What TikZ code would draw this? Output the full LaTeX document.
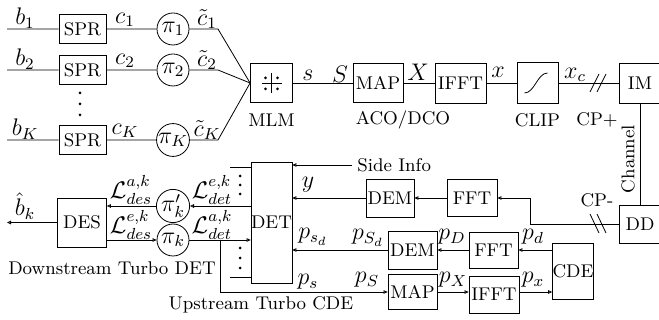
\documentclass[tikz,border=0pt]{standalone}
\usetikzlibrary{arrows.meta}
\begin{document}
\begin{tikzpicture}[x=0.5pt,y=-0.5pt,font=\fontsize{9.2}{11}\selectfont,
  blk/.style={draw,inner sep=0pt},
  circ/.style={draw,circle,inner sep=0pt,minimum size=16pt,font=\fontsize{11.5}{13}\selectfont},
  >={Triangle[open,length=2pt,width=1.8pt]},
  lbl/.style={inner sep=0pt},
  mth/.style={inner sep=0pt,font=\fontsize{11.5}{13}\selectfont}]
\clip (0,0) rectangle (659,320);
% ---------- top rows ----------
\foreach \n/\y/\b/\c/\ct/\p in {1/29/b_1/c_1/\tilde{c}_1/\pi_1, 2/70/b_2/c_2/\tilde{c}_2/\pi_2, K/140/b_K/c_K/\tilde{c}_K/\pi_K}{
  \coordinate (in\n) at (7,\y);
  \node[blk,minimum width=23.5pt,minimum height=14.5pt] (spr\n) at (82.5,\y) {SPR};
  \node[circ] (p\n) at (173,\y) {$\p$};
  \coordinate (k\n) at (218,\y);
  \node[mth] (lb\n) at (25,\y-11) {$\b$};
  \node[mth] (lc\n) at (125,\y-9) {$\c$};
  \node[mth] (lt\n) at (207,\y-10) {$\ct$};
}
\node[blk,minimum width=21pt,minimum height=19.5pt] (mlm) at (271.5,83) {};
\draw (mlm.center) +(0,-10) -- +(0,10) +(-10,0) -- +(10,0);
\foreach \dx/\dy in {-6/-5,6/-5,-6/6,6/6}{\fill (mlm.center) +(\dx,\dy) circle (0.75pt);}
\foreach \n in {1,2,K}{
  \draw (in\n) -- (spr\n) -- (p\n) -- (k\n) -- (mlm.west);
}
\foreach \yy in {93,104,115}{\fill (80,\yy) circle (0.75pt);}
\node[blk,minimum width=25pt,minimum height=19.5pt] (map1) at (378,83) {MAP};
\node[blk,minimum width=25.5pt,minimum height=20pt] (ifft1) at (460.5,83) {IFFT};
\node[blk,minimum width=20.5pt,minimum height=20.5pt] (clip) at (537.5,83) {};
\draw (clip.center) +(-13,10) .. controls +(10,0) and +(-10,0) .. +(10,-10);
\node[blk,minimum width=21pt,minimum height=20pt] (im) at (640,83) {IM};
\draw (mlm) -- (map1) -- (ifft1) -- (clip) -- (im);
\draw (590,92) -- (599,74) (597,92) -- (606,74);
\node[mth] (ls) at (308,75) {$s$};
\node[mth] (lS) at (340,74) {$S$};
\node[mth] (lX) at (418,72) {$X$};
\node[mth] (lx) at (498,72) {$x$};
\node[mth] (lxc) at (575,75) {$x_c$};
\node[lbl] (tmlm) at (271.5,120) {MLM};
\node[lbl] (taco) at (403,120) {ACO/DCO};
\node[lbl] (tclip) at (537.5,120) {CLIP};
\node[lbl] (tcpp) at (597,120) {CP+};
% ---------- channel ----------
\node[blk,minimum width=21pt,minimum height=19pt] (dd) at (640,224) {DD};
\draw (im.south) -- (dd.north);
\node[lbl,rotate=90] (tch) at (628,159) {Channel};
\node[lbl] (tcpm) at (597,200) {CP-};
\draw (590,214) -- (599,233) (597,214) -- (606,233);
% ---------- receiver ----------
\node[blk,minimum width=19.5pt,minimum height=60.5pt] (det) at (271.5,222.5) {DET};
\node[blk,minimum width=24.5pt,minimum height=24.5pt] (des) at (82,222.5) {DES};
\node[circ] (pikp) at (173,206) {$\pi'_k$};
\node[circ] (pik) at (173,240) {$\pi_k$};
\draw[->] (det.west |- pikp) -- (pikp);
\draw[->] (pikp) -- (pikp -| des.east);
\draw[->] (des.east |- pik) -- (pik);
\draw[->] (pik) -- (pik -| det.west);
\coordinate (out) at (7,222.5);
\draw[->] (des.west) -- (out);
\node[mth] (lbh) at (25,206) {$\hat{b}_k$};
\node[mth] (lda) at (131,190) {$\mathcal{L}_{des}^{a,k}$};
\node[mth] (lde) at (131,225) {$\mathcal{L}_{des}^{e,k}$};
\node[mth] (lte) at (212,190) {$\mathcal{L}_{det}^{e,k}$};
\node[mth] (lta) at (212,225) {$\mathcal{L}_{det}^{a,k}$};
\coordinate (st1) at (230,167);
\coordinate (st2) at (230,277);
\draw (st1) -- (st1 -| det.west);
\draw (st2) -- (st2 -| det.west);
\foreach \yy in {176,185,194,248,258,268}{\fill (240,\yy) circle (0.75pt);}
\node[lbl,anchor=west,inner xsep=2.5pt] (si) at (352,165) {Side Info};
\draw[->] (si.west) -- (si.west -| det.east);
\node[blk,minimum width=24pt,minimum height=19pt] (dem1) at (390,198) {DEM};
\node[blk,minimum width=25pt,minimum height=18.5pt] (fft1) at (472,198) {FFT};
\draw[->] (fft1) -- (dem1);
\draw[->] (dem1) -- (dem1 -| det.east);
\coordinate (bend) at (530,198);
\draw[->] (dd.west) -| (bend) -- (fft1.east);
\node[mth] (ly) at (308,185) {$y$};
\node[blk,minimum width=24.5pt,minimum height=19pt] (dem2) at (412.5,250) {DEM};
\node[blk,minimum width=24.5pt,minimum height=18pt] (fft2) at (493.5,250) {FFT};
\node[blk,minimum width=20pt,minimum height=28pt] (cde) at (573,271) {CDE};
\node[blk,minimum width=24.5pt,minimum height=17.5pt] (map2) at (412.5,292) {MAP};
\node[blk,minimum width=25pt,minimum height=18.5pt] (ifft2) at (494,294.5) {IFFT};
\draw[->] (cde.west |- fft2.east) -- (fft2.east);
\draw[->] (fft2) -- (dem2);
\draw[->] (dem2) -- (dem2 -| det.east);
\coordinate (br) at (220,240);
\draw[->] (br) |- (map2.west);
\draw[->] (map2.east) -- (map2.east -| ifft2.west);
\draw[->] (map2.east -| ifft2.east) -- (map2.east -| cde.west);
\node[mth] (lpsd) at (313,237) {$p_{s_d}$};
\node[mth] (lpSd) at (368,238) {$p_{S_d}$};
\node[mth] (lpD) at (452,237) {$p_D$};
\node[mth] (lpd) at (533,237) {$p_d$};
\node[mth] (lps) at (308,282) {$p_s$};
\node[mth] (lpS) at (367,280) {$p_S$};
\node[mth] (lpX) at (453,280) {$p_X$};
\node[mth] (lpx) at (533,280) {$p_x$};
\node[lbl] (tdown) at (112,268) {Downstream Turbo DET};
\node[lbl] (tup) at (261,305) {Upstream Turbo CDE};
\end{tikzpicture}
\end{document}
